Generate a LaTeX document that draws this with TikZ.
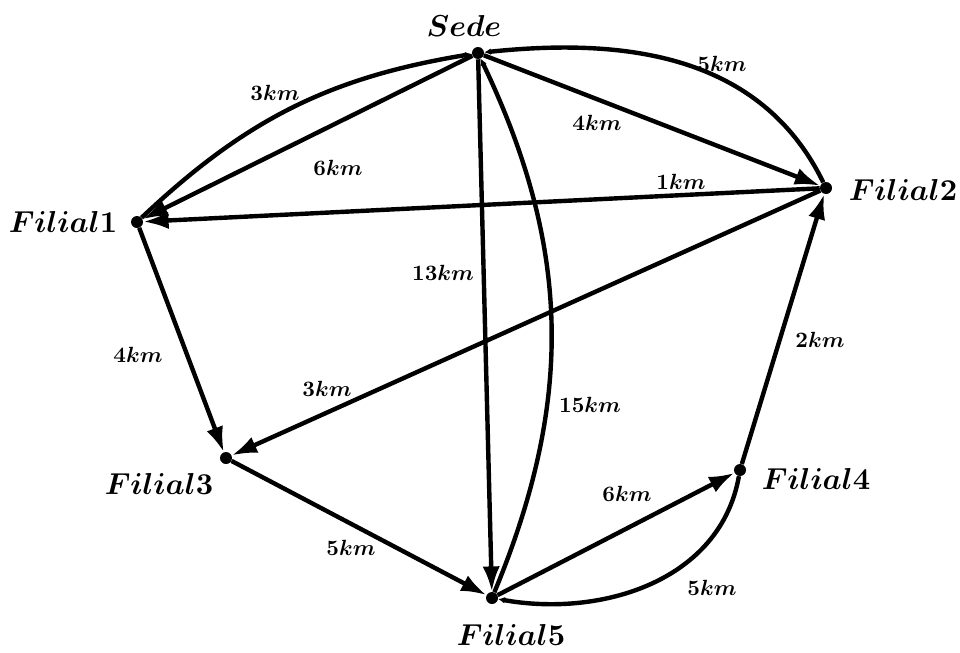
\documentclass[tikz,border=0pt]{standalone}
\usepackage{amsmath}
\usetikzlibrary{arrows.meta}
\begin{document}
\begin{tikzpicture}[x=0.75pt,y=-0.75pt,
  vtx/.style={circle,fill=black,inner sep=0pt,minimum size=9pt},
  vname/.style={font=\boldmath,scale=2.27},
  dist/.style={font=\boldmath,scale=1.65,inner sep=1pt},
  edge/.style={line width=3.3pt,-{Latex[length=19pt,width=13pt]}},
  cedge/.style={line width=3.3pt,-{Latex[length=5pt,width=5pt]}}]
\useasboundingbox (0,0) rectangle (960,653);
\node[vtx] (S) at (478,53) {};
\node[vtx] (F1) at (137,222) {};
\node[vtx] (F2) at (826,188) {};
\node[vtx] (F3) at (226,458) {};
\node[vtx] (F4) at (740,470) {};
\node[vtx] (F5) at (492,598) {};
\node[vname] (tS) at (464,26) {$Sede$};
\node[vname] (t1) at (63,222) {$Filial1$};
\node[vname] (t2) at (903,190) {$Filial2$};
\node[vname] (t3) at (159,484) {$Filial3$};
\node[vname] (t4) at (816,479) {$Filial4$};
\node[vname] (t5) at (511,635) {$Filial5$};
% straight arrows
\draw[edge] (S) -- (F1);
\draw[edge] (F2) -- (F1);
\draw[edge] (S) -- (F2);
\draw[edge] (S) -- (F5);
\draw[edge] (F1) -- (F3);
\draw[edge] (F2) -- (F3);
\draw[edge] (F3) -- (F5);
\draw[edge] (F5) -- (F4);
\draw[edge] (F4) -- (F2);
% curved arrows
\draw[cedge] (F1) to[bend left=17] (S);
\draw[cedge] (F2) to[out=116,in=6] (S);
\draw[cedge] (F5) to[bend right=24] (S);
\draw[cedge] (F4) to[out=-100,in=-10] (F5);
% labels
\node[dist] (l1) at (275,93) {$3km$};
\node[dist] (l2) at (338,168) {$6km$};
\node[dist] (l3) at (597,123) {$4km$};
\node[dist] (l4) at (722,64) {$5km$};
\node[dist] (l5) at (681,182) {$1km$};
\node[dist] (l6) at (443,273) {$13km$};
\node[dist] (l7) at (590,405) {$15km$};
\node[dist] (l8) at (138,355) {$4km$};
\node[dist] (l9) at (327,389) {$3km$};
\node[dist] (l10) at (820,340) {$2km$};
\node[dist] (l11) at (351,548) {$5km$};
\node[dist] (l12) at (627,494) {$6km$};
\node[dist] (l13) at (712,588) {$5km$};
\end{tikzpicture}
\end{document}
